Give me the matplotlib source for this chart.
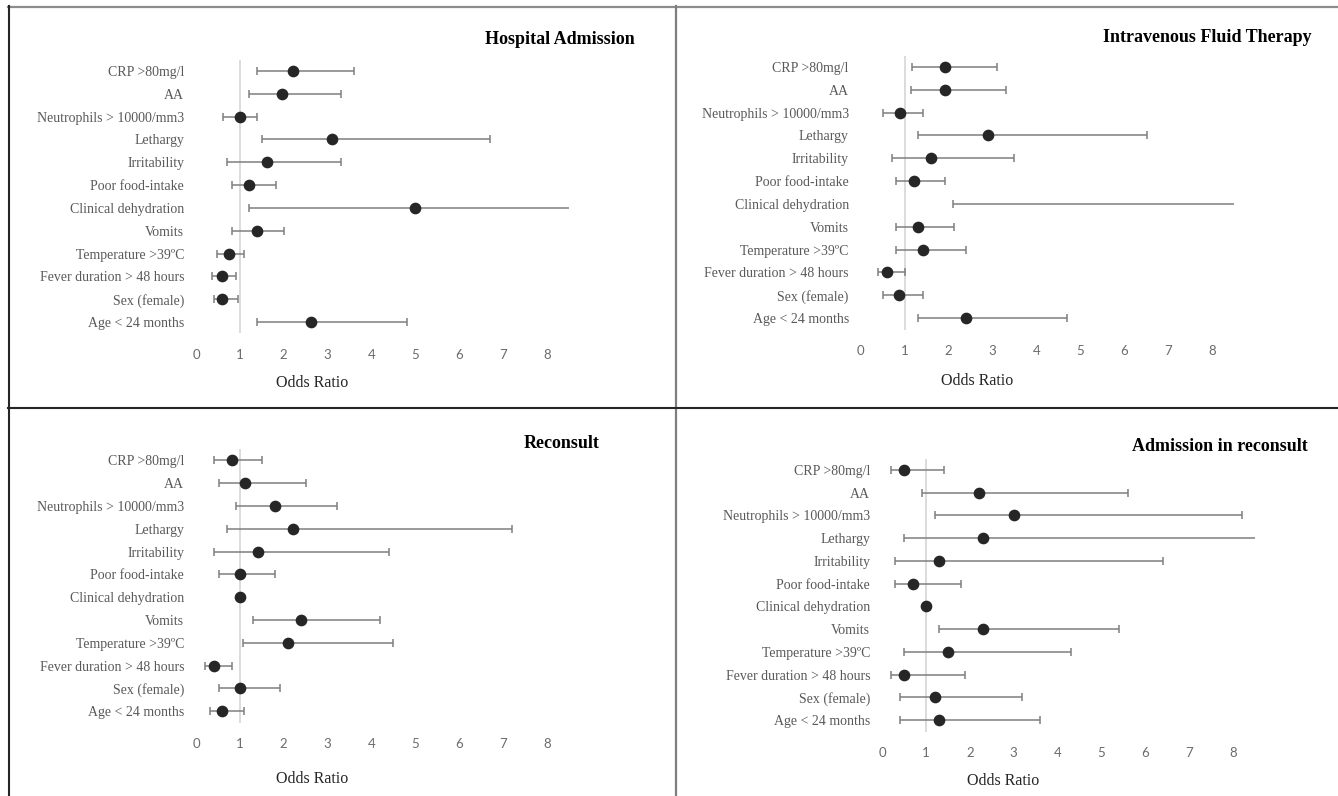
import matplotlib
matplotlib.use("Agg")
import matplotlib.pyplot as plt
from matplotlib.lines import Line2D
import numpy as np

W, H = 1338, 796

categories = ["CRP >80mg/l", "AA", "Neutrophils > 10000/mm3", "Lethargy", "Irritability",
              "Poor food-intake", "Clinical dehydration", "Vomits", "Temperature >39ºC",
              "Fever duration > 48 hours", "Sex (female)", "Age < 24 months"]

titles = ["Hospital Admission", "Intravenous Fluid Therapy", "Reconsult", "Admission in reconsult"]

# Hospital Admission
ha_or = [2.21, 1.97, 1.01, 3.10, 1.61, 1.21, 5.00, 1.38, 0.75, 0.60, 0.60, 2.61]
ha_lo = [1.40, 1.21, 0.61, 1.50, 0.70, 0.81, 1.21, 0.81, 0.48, 0.37, 0.41, 1.40]
ha_hi = [3.60, 3.31, 1.40, 6.71, 3.31, 1.82, 9.50, 2.00, 1.10, 0.92, 0.96, 4.80]

# Intravenous Fluid Therapy
iv_or = [1.91, 1.92, 0.89, 2.90, 1.61, 1.21, 9.00, 1.31, 1.41, 0.61, 0.87, 2.41]
iv_lo = [1.18, 1.14, 0.50, 1.31, 0.71, 0.81, 2.10, 0.81, 0.81, 0.40, 0.50, 1.31]
iv_hi = [3.10, 3.32, 1.42, 6.51, 3.50, 1.91, 12.0, 2.12, 2.41, 1.01, 1.42, 4.70]

# Reconsult
rc_or = [0.81, 1.11, 1.81, 2.21, 1.41, 1.01, 1.01, 2.40, 2.10, 0.41, 1.01, 0.60]
rc_lo = [0.41, 0.52, 0.91, 0.70, 0.41, 0.52, 1.01, 1.31, 1.07, 0.21, 0.52, 0.31]
rc_hi = [1.50, 2.50, 3.21, 7.20, 4.40, 1.81, 1.01, 4.20, 4.50, 0.81, 1.91, 1.10]

# Admission in reconsult
ar_or = [0.50, 2.20, 3.01, 2.30, 1.30, 0.71, 1.01, 2.30, 1.50, 0.50, 1.20, 1.30]
ar_lo = [0.20, 0.91, 1.21, 0.50, 0.30, 0.30, 1.01, 1.30, 0.50, 0.20, 0.41, 0.41]
ar_hi = [1.41, 5.60, 8.20, 9.50, 6.41, 1.81, 1.01, 5.40, 4.31, 1.90, 3.20, 3.60]

x_ticks = [0, 1, 2, 3, 4, 5, 6, 7, 8]
x_max = 8.5

panels = [
    dict(orv=ha_or, lo=ha_lo, hi=ha_hi, x0=196, unit=43.875, top=59.6, bot=333.4,
         title_xy=(635, 39), xlab_xy=(312, 383)),
    dict(orv=iv_or, lo=iv_lo, hi=iv_hi, x0=860.6, unit=43.93, top=55.5, bot=329.5,
         title_xy=(1312, 37), xlab_xy=(977, 381)),
    dict(orv=rc_or, lo=rc_lo, hi=rc_hi, x0=196, unit=43.875, top=449, bot=722.5,
         title_xy=(600, 443), xlab_xy=(312, 779)),
    dict(orv=ar_or, lo=ar_lo, hi=ar_hi, x0=882, unit=43.9, top=458.5, bot=731.5,
         title_xy=(1308, 446), xlab_xy=(1003, 781)),
]

fig = plt.figure(figsize=(W / 100, H / 100), dpi=100)
fig.patch.set_facecolor("white")

serif = ["Liberation Serif", "DejaVu Serif"]
label_gray = "#595959"

for p, title in zip(panels, titles):
    left = p["x0"] / W
    width = x_max * p["unit"] / W
    bottom = 1 - p["bot"] / H
    height = (p["bot"] - p["top"]) / H
    ax = fig.add_axes([left, bottom, width, height])
    n = len(categories)
    y = np.arange(n)
    orv = np.array(p["orv"])
    lo = np.array(p["lo"])
    hi = np.array(p["hi"])
    ax.axvline(1, color="#d9d9d9", lw=1.3, zorder=1)
    ax.errorbar(orv, y, xerr=[orv - lo, hi - orv], fmt="o", color="#262626",
                ecolor="#7f7f7f", elinewidth=1.1, capsize=2.8, capthick=1.1,
                markersize=7.4, zorder=3)
    ax.set_xlim(0, x_max)
    ax.set_ylim(n - 0.5, -0.5)
    for s in ax.spines.values():
        s.set_visible(False)
    ax.set_xticks(x_ticks)
    ax.set_xticklabels([str(t) for t in x_ticks], fontsize=9.5, color="#6b6b6b",
                       family=["Lato", "DejaVu Sans"])
    ax.set_yticks(y)
    ax.set_yticklabels(categories, fontsize=10, color=label_gray, family=serif)
    ax.tick_params(axis="both", length=0)
    ax.tick_params(axis="x", pad=11)
    ax.tick_params(axis="y", pad=8.5)
    ax.patch.set_alpha(0)
    tx, ty = p["title_xy"]
    fig.text(tx / W, 1 - ty / H, title, ha="right", va="center", fontsize=13,
             fontweight="bold", family=serif, color="black")
    lx, ly = p["xlab_xy"]
    fig.text(lx / W, 1 - ly / H, "Odds Ratio", ha="center", va="center",
             fontsize=11.5, family=serif, color="#262626")

def fline(x1, y1, x2, y2, color, lw):
    fig.add_artist(Line2D([x1 / W, x2 / W], [1 - y1 / H, 1 - y2 / H],
                          color=color, lw=lw, transform=fig.transFigure))

fline(8, 6.5, W, 6.5, "#8c8c8c", 1.6)
fline(8.5, 6, 8.5, H, "#262626", 1.5)
fline(675.5, 6, 675.5, H, "#7f7f7f", 1.6)
fline(8, 408, W, 408, "#262626", 1.5)

fig.savefig("out.png", dpi=100)
